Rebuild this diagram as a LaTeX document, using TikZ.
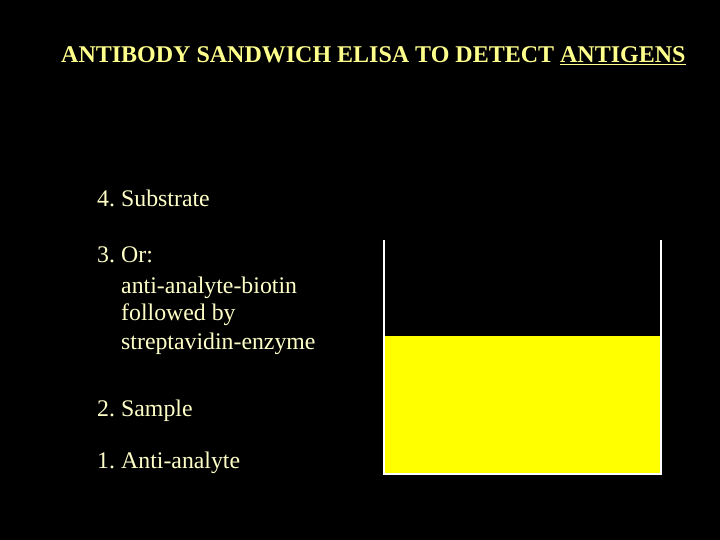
\documentclass[tikz,border=0pt]{standalone}
\usepackage{fontspec}
\setmainfont{Liberation Serif}
\usepackage{tikz}

\definecolor{titleyellow}{RGB}{255,255,140}
\definecolor{textcream}{RGB}{255,255,200}
\definecolor{fillyellow}{RGB}{255,255,0}

\newcommand{\stepno}[1]{\makebox[24pt][l]{#1}}

\begin{document}
\begin{tikzpicture}
[x = 1pt, y = -1pt, every node/.style = {anchor = base west, inner sep = 0pt, text = textcream, font = \fontsize{23.8}{28}\selectfont},
 title/.style = {text = titleyellow, font = \fontsize{24}{28}\selectfont\bfseries},
 wall/.style = {draw = white, line width = 1.3pt}]
\fill[black] (0,0) rectangle (720,540);
\useasboundingbox (0,0) rectangle (720,540);
\node[title] (head) at (61,63) {ANTIBODY SANDWICH ELISA TO DETECT \underline{ANTIGENS}};
\node (substrate) at (97,207) {\stepno{4.}Substrate};
\node (or) at (97,262) {\stepno{3.}Or:};
\node (biotin) at (121,293) {anti-analyte-biotin};
\node (followed) at (121,320) {followed by};
\node (strept) at (121,349) {streptavidin-enzyme};
\node (sample) at (97,416) {\stepno{2.}Sample};
\node (anti) at (97,468) {\stepno{1.}Anti-analyte};
% the well
\coordinate (tl) at (384,240);
\coordinate (tr) at (661,240);
\coordinate (bl) at (384,474);
\coordinate (br) at (661,474);
\fill[fillyellow] (384,336) rectangle (br);
\draw[wall] (tl) -- (bl) -- (br) -- (tr);
\end{tikzpicture}
\end{document}
